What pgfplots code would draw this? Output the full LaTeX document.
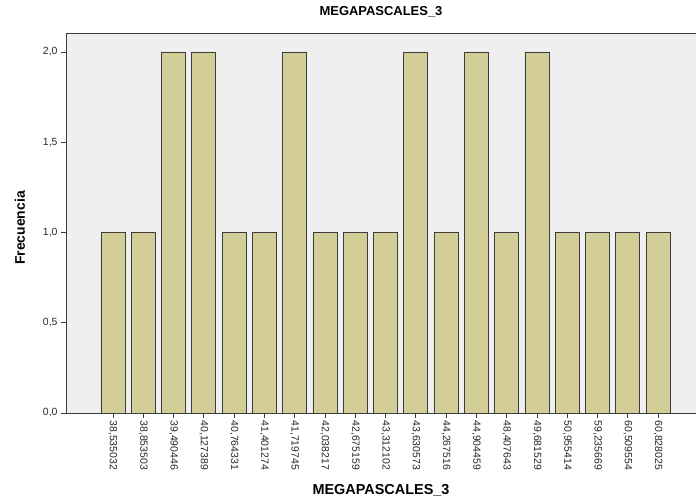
\documentclass[border=0pt]{standalone}
\usepackage{fontspec}
\setmainfont{Liberation Sans}
\usepackage{pgfplots}
\pgfplotsset{compat=1.18}
\definecolor{bgc}{RGB}{239,239,239}
\definecolor{barc}{RGB}{211,206,152}
\definecolor{edgec}{RGB}{60,60,60}
\begin{document}
\begin{tikzpicture}
\begin{axis}[name=ax,
  width=630bp, height=380bp, scale only axis,
  axis background/.style={fill=bgc},
  axis y line*=left,
  axis line style={edgec, line width=0.8pt},
  xmin=-1.55, xmax=19.25,
  ymin=0, ymax=2.105,
  ytick={0,0.5,1,1.5,2},
  xtick={0,...,18},
  xticklabels={{38,535032},{38,853503},{39,490446},{40,127389},{40,764331},{41,401274},{41,719745},{42,038217},{42,675159},{43,312102},{43,630573},{44,267516},{44,904459},{48,407643},{49,681529},{50,955414},{59,235669},{60,509554},{60,828025}},
  x tick label style={rotate=-90, anchor=west, font=\fontsize{10.5}{10.5}\selectfont, xshift=-1bp, text=black!85},
  y tick label style={font=\fontsize{10.5}{10.5}\selectfont, text=black!85},
  /pgf/number format/assume math mode=true,
  /pgf/number format/.cd, use comma, fixed, fixed zerofill, precision=1, /pgfplots/.cd,
  tick align=outside, major tick length=5bp,
  tick style={edgec, line width=0.8pt},
  xtick pos=bottom, ytick pos=left,
  title={\textbf{MEGAPASCALES\_3}},
  title style={font=\fontsize{13}{13}\selectfont, at={(axis description cs:0.5,1.0553)}, anchor=center, yshift=-6pt},
  xlabel={\textbf{MEGAPASCALES\_3}},
  xlabel style={font=\fontsize{14.5}{14.5}\selectfont, at={(axis description cs:0.5,-0.2026)}, anchor=center},
  ylabel={\textbf{Frecuencia}},
  ylabel style={font=\fontsize{14}{14}\selectfont, at={(axis description cs:-0.073,0.487)}, anchor=center},
  ybar, bar width=24bp,
]
\addplot[fill=barc, draw=edgec, line width=0.8pt] coordinates {
(0,1) (1,1) (2,2) (3,2) (4,1) (5,1) (6,2) (7,1) (8,1) (9,1) (10,2) (11,1) (12,2) (13,1) (14,2) (15,1) (16,1) (17,1) (18,1)};
\end{axis}
\pgfresetboundingbox
\path[use as bounding box] ([xshift=-66bp,yshift=-89bp]ax.south west) rectangle ([yshift=33bp]ax.north east);
\end{tikzpicture}
\end{document}
